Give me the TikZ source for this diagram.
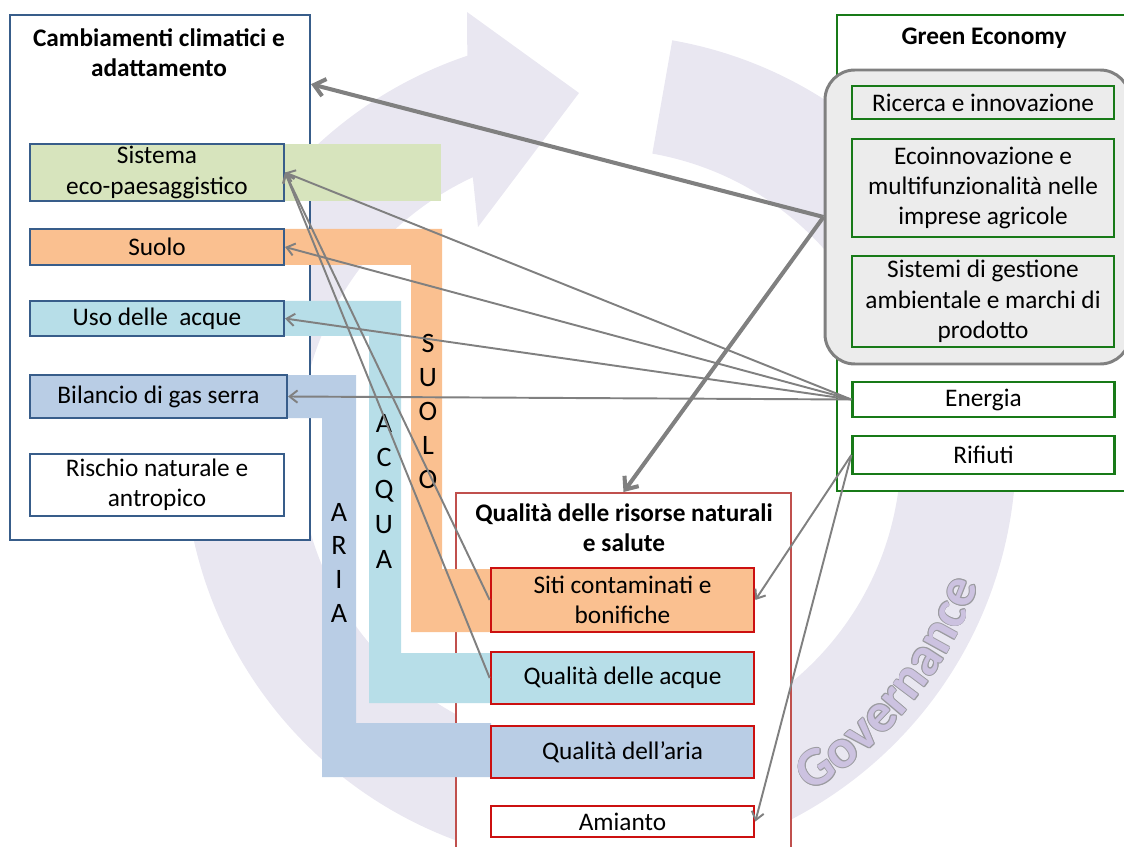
\documentclass[tikz,border=0pt]{standalone}
\usepackage{fontspec}
\setmainfont{Carlito}
\usetikzlibrary{arrows.meta,decorations.text}

\definecolor{climblue}{RGB}{56,93,138}
\definecolor{gegreen}{RGB}{24,122,24}
\definecolor{qualred}{RGB}{192,80,77}
\definecolor{boxred}{RGB}{204,16,16}
\definecolor{arrgray}{RGB}{128,128,128}
\definecolor{ringcol}{RGB}{233,231,241}
\definecolor{govfill}{RGB}{204,194,224}
\definecolor{govline}{RGB}{155,155,160}
\definecolor{ecofill}{RGB}{215,228,189}
\definecolor{soilfill}{RGB}{250,192,144}
\definecolor{waterfill}{RGB}{183,222,232}
\definecolor{airfill}{RGB}{185,205,229}
\definecolor{corefill}{RGB}{236,236,236}

\newdimen\px \px=0.02cm
\newcommand{\govfont}{\fontsize{31pt}{31pt}\selectfont\bfseries}

\begin{document}
\begin{tikzpicture}[x=0.02cm,y=-0.02cm,
    every node/.style={font=\fontsize{14.4pt}{17.3pt}\selectfont,inner sep=0pt,align=center},
    titletext/.style={font=\fontsize{14.4pt}{17.3pt}\selectfont\bfseries},
    bigbox/.style={draw,fill=white,line width=1.2pt},
    bluebox/.style={draw=climblue,line width=1.2pt,minimum width=254\px},
    greenbox/.style={draw=gegreen,line width=1.3pt,minimum width=262\px,fill=corefill},
    redbox/.style={draw=boxred,line width=1.5pt,minimum width=263\px},
    bandletter/.style={font=\fontsize{16pt}{16pt}\selectfont},
    thinarr/.style={draw=arrgray,line width=1.1pt,-{Straight Barb[length=4.5pt,width=7pt]}},
    thickarr/.style={draw=arrgray,line width=2.3pt,-{Straight Barb[length=6pt,width=10pt]}}]
    \useasboundingbox (0,0) rectangle (1124,847);
    \clip (0,0) rectangle (1124,847);

    % Ring in the background:
    % the left part ends in a head, the right part carries the Governance lettering
    \fill[ringcol] (600,450) ++(95:416) arc[start angle=95,end angle=251.4,radius=416]
        -- (467,12) -- (579,93) -- (478,227) -- (472.8,177.2)
        arc[start angle=245,end angle=95,radius=301] -- cycle;
    \fill[ringcol] (600,450) ++(-80:416) arc[start angle=-80,end angle=95,radius=416]
        -- (573.8,749.9) arc[start angle=95,end angle=-80,radius=301] -- cycle;
    % outlined lettering: grey copies round the filled one
    \foreach \a in {0,45,...,315}
        \path[decorate,shift={(\a:0.5pt)},decoration={text along path,text align=center,
            text color=govline,text={|\govfont|Governance}}]
            (600,450) ++(61:402) arc[start angle=61,end angle=17,radius=402];
    \path[decorate,decoration={text along path,text align=center,
        text color=govfill,text={|\govfont|Governance}}]
        (600,450) ++(61:402) arc[start angle=61,end angle=17,radius=402];

    % The three big frames:
    \node[bigbox,draw=climblue,minimum width=300\px,minimum height=525\px] (clima) at (160,277.5) {};
    \node[titletext] (climatitle) at (159,53) {Cambiamenti climatici e\\adattamento};
    \node[bigbox,draw=gegreen,line width=1.1pt,minimum width=293\px,minimum height=476\px] (ge) at (983.5,253) {};
    \node[titletext] (getitle) at (984,38) {Green Economy};
    \node[bigbox,draw=qualred,line width=1.1pt,minimum width=335\px,minimum height=377\px] (qual) at (623.5,681.5) {};
    \node[titletext] (qualtitle) at (624,528) {Qualità delle risorse naturali\\e salute};

    % Bands joining the themes:
    \fill[ecofill] (270,144) rectangle (441,201);
    \fill[soilfill] (270,229) -- (442,229) -- (442,569) -- (491,569) -- (491,632)
        -- (411,632) -- (411,265) -- (270,265) -- cycle;
    \fill[waterfill] (270,301) -- (401,301) -- (401,653) -- (491,653) -- (491,703)
        -- (369,703) -- (369,336) -- (270,336) -- cycle;
    \fill[airfill] (270,375) -- (356,375) -- (356,723) -- (491,723) -- (491,777)
        -- (322,777) -- (322,418) -- (270,418) -- cycle;
    \foreach \ch [count=\i] in {S,U,O,L,O}
        \node[bandletter] (soilch\i) at (428,{343+34.2*(\i-1)}) {\ch};
    \foreach \ch [count=\i] in {A,C,Q,U,A}
        \node[bandletter] (waterch\i) at (384,{423+34*(\i-1)}) {\ch};
    \foreach \ch [count=\i] in {A,R,I,A}
        \node[bandletter] (airch\i) at (339,{512+33.7*(\i-1)}) {\ch};

    % Cambiamenti climatici e adattamento:
    \node[bluebox,fill=ecofill,minimum height=57\px] (eco) at (157,172.5) {Sistema\\eco-paesaggistico};
    \node[bluebox,fill=soilfill,minimum height=36\px] (suolo) at (157,247) {Suolo};
    \node[bluebox,fill=waterfill,minimum height=35\px] (acque) at (157,318.5) {Uso delle\ \ acque};
    \node[bluebox,fill=airfill,minimum width=257\px,minimum height=43\px] (gas) at (158.5,396.5) {Bilancio di gas serra};
    \node[bluebox,fill=white,minimum height=62\px] (rischio) at (157,485) {Rischio naturale e\\antropico};

    % Green Economy:
    \node[draw=arrgray,line width=1.7pt,fill=corefill,rounded corners=17pt,
        minimum width=305\px,minimum height=294\px] (gecore) at (977.5,217) {};
    \node[greenbox,minimum height=33\px] (ricerca) at (983,102.5) {Ricerca e innovazione};
    \node[greenbox,minimum height=98\px] (ecoinn) at (983,188) {Ecoinnovazione e\\multifunzionalità nelle\\imprese agricole};
    \node[greenbox,minimum height=91\px] (sistemi) at (983,301.5) {Sistemi di gestione\\ambientale e marchi di\\prodotto};
    \node[greenbox,fill=white,minimum height=35\px] (energia) at (983.5,399.5) {Energia};
    \node[greenbox,fill=white,minimum height=38\px] (rifiuti) at (983.5,455) {Rifiuti};

    % Qualità delle risorse naturali e salute:
    \node[redbox,fill=soilfill,minimum height=64\px] (siti) at (622.5,600) {Siti contaminati e\\bonifiche};
    \node[redbox,fill=waterfill,minimum height=52\px] (qacque) at (622.5,678) {Qualità delle acque};
    \node[redbox,fill=airfill,minimum height=52\px] (qaria) at (622.5,752) {Qualità dell’aria};
    \node[redbox,fill=white,minimum height=31\px] (amianto) at (622.5,821.5) {Amianto};

    % Arrows:
    \draw[thickarr] (gecore.west) -- (clima.52.5);
    \draw[thickarr] (gecore.west) -- (qual.north);
    \foreach \t in {eco,suolo,acque,gas}
        \draw[thinarr] (energia.west) -- (\t.east);
    \draw[thinarr] (siti.west) -- (eco.east);
    \draw[thinarr] (qacque.west) -- (eco.east);
    \draw[thinarr] (rifiuti.west) -- (siti.east);
    \draw[thinarr] (rifiuti.west) -- (amianto.east);
\end{tikzpicture}
\end{document}
